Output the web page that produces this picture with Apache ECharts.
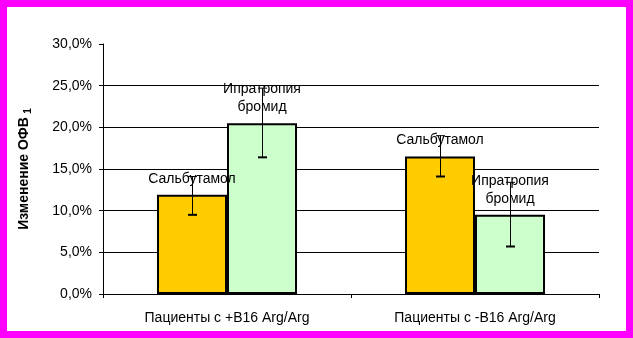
<!DOCTYPE html>
<html><head><meta charset="utf-8">
<script src="https://cdn.jsdelivr.net/npm/echarts@6/dist/echarts.min.js"></script>
<style>html,body{margin:0;padding:0;background:#fff}#c{width:633px;height:338px}</style>
</head><body><div id="c"></div>
<script>
const categories = ['Пациенты с +B16 Arg/Arg', 'Пациенты с -B16 Arg/Arg'];
const seriesNames = ['Сальбутамол', 'Ипратропия бромид'];
const salbutamol = [11.9, 16.5];
const ipratropium = [20.5, 9.5];
const salbutamolErrLow = [9.5, 14.1];
const salbutamolErrHigh = [14.1, 19.0];
const ipratropiumErrLow = [16.4, 5.7];
const ipratropiumErrHigh = [24.7, 13.4];
const yTicks = [0, 5, 10, 15, 20, 25, 30];
const yAxisTitle = 'Изменение ОФВ';
const yAxisTitleSub = '1';

const FONT = "'Liberation Sans', Arial, sans-serif";
const BAR_W = 70;

function errSeries(low, high, offset) {
  return {
    type: 'custom', z: 5, silent: true,
    data: categories.map((c, i) => [i, low[i], high[i]]),
    encode: { x: 0, y: [1, 2] },
    renderItem(params, api) {
      const i = api.value(0);
      const lo = api.coord([i, api.value(1)]);
      const hi = api.coord([i, api.value(2)]);
      const x = Math.round(lo[0] + offset) + 0.5;
      const cap = 4.5;
      return { type: 'group', children: [
        { type: 'line', shape: { x1: x, y1: hi[1], x2: x, y2: lo[1] }, style: { stroke: '#000', lineWidth: 1 } },
        { type: 'line', shape: { x1: x - cap, y1: lo[1], x2: x + cap, y2: lo[1] }, style: { stroke: '#000', lineWidth: 2 } },
        { type: 'line', shape: { x1: x - cap, y1: hi[1], x2: x + cap, y2: hi[1] }, style: { stroke: '#000', lineWidth: 1 } }
      ]};
    }
  };
}

function barSeries(name, data, color) {
  return {
    type: 'bar', name: name, data: data, barWidth: BAR_W, barGap: '0%',
    itemStyle: { color: color, borderColor: '#000', borderWidth: 2 },
    label: {
      show: true, position: 'top', distance: 7, color: '#000',
      fontFamily: FONT, fontSize: 14, lineHeight: 18,
      formatter: () => name.split(' ').join('\n')
    },
    z: 2
  };
}

const chart = echarts.init(document.getElementById('c'), null, { renderer: 'canvas' });
chart.setOption({
  backgroundColor: '#fff',
  animation: false,
  textStyle: { fontFamily: FONT },
  grid: { left: 103, right: 34, top: 44, bottom: 44, containLabel: false, outerBoundsMode: 'none' },
  xAxis: {
    type: 'category', data: categories,
    axisLine: { show: true, lineStyle: { color: '#000', width: 1 } },
    axisTick: { show: true, length: 4, lineStyle: { color: '#000' } },
    axisLabel: { color: '#000', fontSize: 14, fontFamily: FONT, margin: 17, interval: 0 },
    splitLine: { show: false }
  },
  yAxis: {
    type: 'value', min: yTicks[0], max: yTicks[yTicks.length - 1], interval: yTicks[1] - yTicks[0],
    name: '{a|' + yAxisTitle + '} {b|' + yAxisTitleSub + '}',
    nameLocation: 'middle', nameGap: 70,
    nameTextStyle: {
      color: '#000', padding: [0, 0, 0, 0],
      rich: {
        a: { fontSize: 14, fontWeight: 'bold', fontFamily: FONT, color: '#000' },
        b: { fontSize: 10, fontWeight: 'bold', fontFamily: FONT, color: '#000', padding: [8, 0, 0, 0] }
      }
    },
    axisLine: { show: true, lineStyle: { color: '#000', width: 1 } },
    axisTick: { show: true, length: 4, lineStyle: { color: '#000' } },
    axisLabel: { color: '#000', fontSize: 14, fontFamily: FONT, margin: 11,
      formatter: v => v.toFixed(1).replace('.', ',') + '%' },
    splitLine: { show: true, showMinLine: false, showMaxLine: false, lineStyle: { color: '#000', width: 1 } }
  },
  graphic: [{
    type: 'rect', silent: true, z: 100,
    shape: { x: 3.5, y: 3.5, width: 626, height: 331 },
    style: { fill: 'none', stroke: '#ff00ff', lineWidth: 7 }
  }],
  series: [
    barSeries(seriesNames[0], salbutamol, '#ffcc00'),
    barSeries(seriesNames[1], ipratropium, '#ccffcc'),
    errSeries(salbutamolErrLow, salbutamolErrHigh, -BAR_W / 2),
    errSeries(ipratropiumErrLow, ipratropiumErrHigh, BAR_W / 2)
  ]
});
</script></body></html>
